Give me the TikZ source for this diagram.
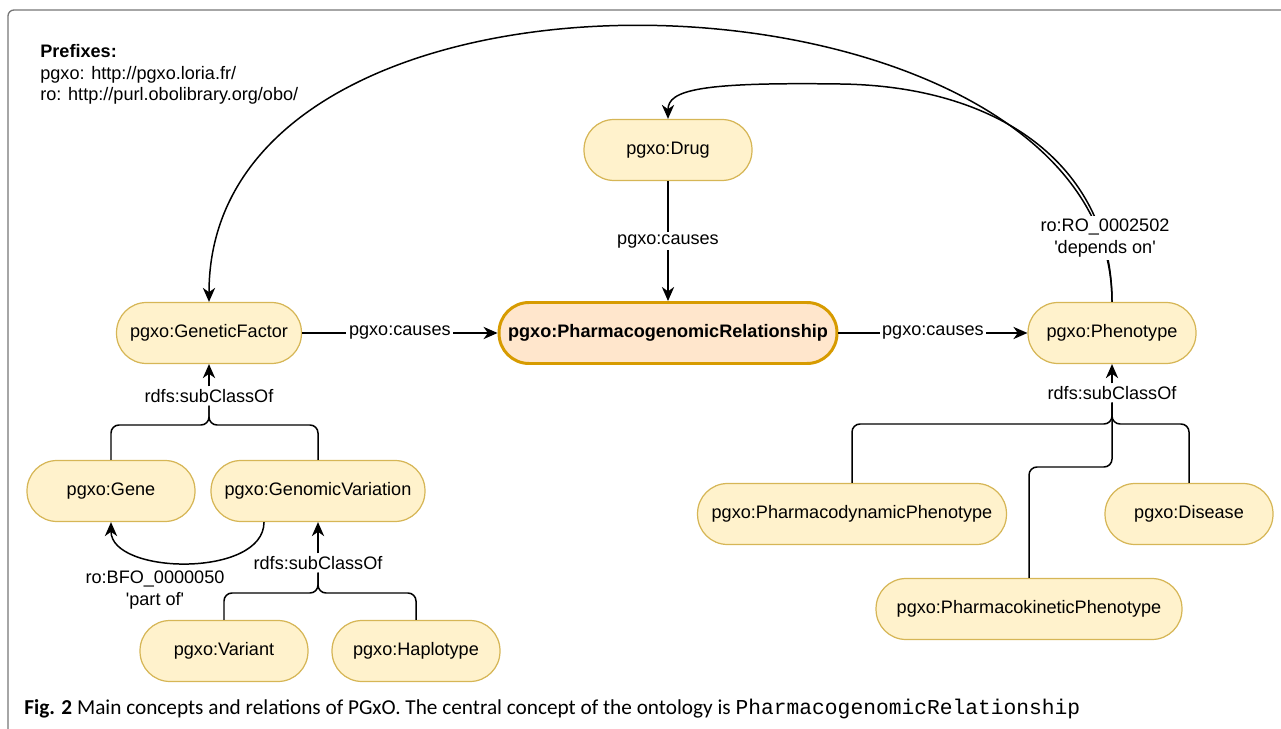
\documentclass[tikz,border=0pt]{standalone}
\usepackage{fontspec}
\setmainfont{Liberation Sans}
\setmonofont{Liberation Mono}
\newfontfamily\capfont{Carlito}
\usetikzlibrary{arrows.meta}
\definecolor{conceptfill}{HTML}{FFF2CC}
\definecolor{conceptline}{HTML}{D6B656}
\definecolor{centralfill}{HTML}{FFE6CC}
\definecolor{centralline}{HTML}{D79B00}
\definecolor{framegray}{HTML}{767676}

\begin{document}
\begin{tikzpicture}[x=0.02cm, y=-0.02cm,
	font=\fontsize{10.3}{12.3}\selectfont,
	concept/.style={draw=conceptline, fill=conceptfill, line width=0.7pt, rounded corners=0.6cm, minimum width=3.36cm, minimum height=1.22cm, inner sep=2pt},
	central/.style={concept, draw=centralline, fill=centralfill, line width=1.7pt, font=\fontsize{10.3}{12.3}\selectfont\bfseries, minimum width=6.76cm},
	rel/.style={fill=white, inner sep=1.5pt, align=center},
	link/.style={line width=0.85pt, -{Stealth[length=8pt, width=7pt, inset=2.5pt]}},
	branch/.style={line width=0.85pt, rounded corners=0.16cm}]
	\useasboundingbox (0,0) rectangle (1281,729);
	\draw [framegray, line width=0.75pt, rounded corners=0.12cm] (8,740) -- (8,10) -- (1295,10);
	
	\node [anchor=north west, align=left, inner sep=0pt] (PREFIXES) at (40,44) {\textbf{Prefixes:}\\pgxo: http://pgxo.loria.fr/\\ro: http://purl.obolibrary.org/obo/};
	
	\node [concept] (DRUG) at (668,150) {pgxo:Drug};
	\node [central] (PGXREL) at (668,333) {pgxo:PharmacogenomicRelationship};
	\node [concept, minimum width=3.7cm] (GENFACTOR) at (209,333) {pgxo:GeneticFactor};
	\node [concept] (PHENO) at (1112,333) {pgxo:Phenotype};
	\node [concept] (GENE) at (111,491) {pgxo:Gene};
	\node [concept, minimum width=4.28cm] (GENVAR) at (318,491) {pgxo:GenomicVariation};
	\node [concept] (VARIANT) at (224,651) {pgxo:Variant};
	\node [concept] (HAPLO) at (416,651) {pgxo:Haplotype};
	\node [concept, minimum width=6.18cm] (PDPHENO) at (852,514) {pgxo:PharmacodynamicPhenotype};
	\node [concept] (DISEASE) at (1189,514) {pgxo:Disease};
	\node [concept, minimum width=6.12cm] (PKPHENO) at (1029,609) {pgxo:PharmacokineticPhenotype};
	
	\draw [link] (DRUG) -- node[rel] (CAUSES_DRUG) {pgxo:causes} (PGXREL);
	\draw [link] (GENFACTOR) -- node[rel] (CAUSES_GF) {pgxo:causes} (PGXREL);
	\draw [link] (PGXREL) -- node[rel] (CAUSES_PH) {pgxo:causes} (PHENO);
	
	\draw [link] (PHENO.north) .. controls (1112,-45) and (209,-85) .. (GENFACTOR.north);
	\draw [link] (PHENO.north) .. controls (1112,170) and (1005,86) .. (840,84) .. controls (700,82) and (668,90) .. (DRUG.north);
	\node [rel] (DEPENDS) at (1105,238) {ro:RO\_0002502\\\textquotesingle depends on\textquotesingle};
	
	\node [rel] (SUB_GF) at (209,396) {rdfs:subClassOf};
	\coordinate (J_GF) at (209,425);
	\draw [link] (SUB_GF) -- (GENFACTOR);
	\draw [branch] (GENE.north) |- (J_GF) -- (SUB_GF.south);
	\draw [branch] (GENVAR.north) |- (J_GF) -- (SUB_GF.south);
	
	\node [rel] (SUB_GV) at (318,563) {rdfs:subClassOf};
	\coordinate (J_GV) at (318,593);
	\draw [link] (SUB_GV) -- (GENVAR);
	\draw [branch] (VARIANT.north) |- (J_GV) -- (SUB_GV.south);
	\draw [branch] (HAPLO.north) |- (J_GV) -- (SUB_GV.south);
	
	\node [rel] (SUB_PH) at (1112,393) {rdfs:subClassOf};
	\coordinate (J_PH) at (1112,424);
	\coordinate (J_PK) at (1112,467);
	\draw [link] (SUB_PH) -- (PHENO);
	\draw [branch] (PDPHENO.north) |- (J_PH) -- (SUB_PH.south);
	\draw [branch] (DISEASE.north) |- (J_PH) -- (SUB_PH.south);
	\draw [branch] (PKPHENO.north) |- (J_PK) -- (SUB_PH.south);
	
	\draw [link] ([xshift=-1.08cm]GENVAR.south) .. controls (264,578) and (111,575) .. (GENE.south);
	\node [rel, fill=none] (PARTOF) at (155,590) {ro:BFO\_0000050\\\textquotesingle part of\textquotesingle};
	
	\node [anchor=west, inner sep=0pt] (CAPTION) at (24,709) {\capfont\fontsize{12.1}{14}\selectfont\textbf{Fig. 2} Main concepts and relations of PGxO. The central concept of the ontology is \texttt{\fontsize{12.1}{14}\selectfont PharmacogenomicRelationship}};
\end{tikzpicture}
\end{document}
